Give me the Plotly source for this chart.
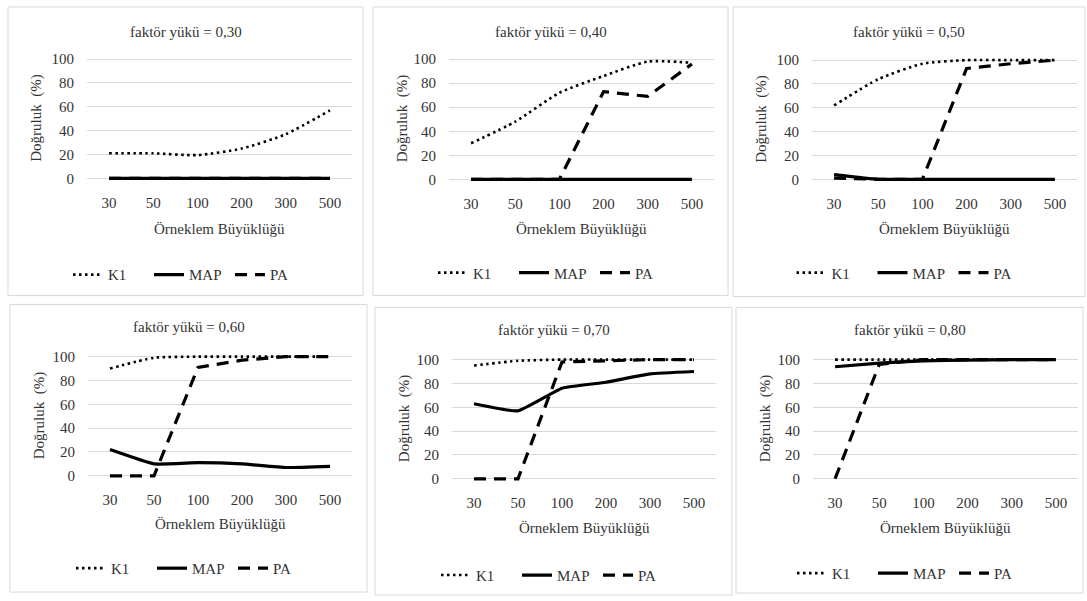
import plotly.graph_objects as go

W, H = 1087, 601

# sample sizes on the horizontal axis and factor loadings per panel
sizes = ["30", "50", "100", "200", "300", "500"]
loadings = ["0,30", "0,40", "0,50", "0,60", "0,70", "0,80"]

# accuracy (%) of each retention method, one row per factor loading
k1 = [
    [21, 21, 19.5, 25, 37, 57],
    [30, 48, 72, 86, 98, 97],
    [62, 84, 97, 100, 100, 100],
    [90, 99, 100, 100, 100, 100],
    [95, 99, 100, 100, 100, 100],
    [100, 100, 100, 100, 100, 100],
]
map_ = [
    [0, 0, 0, 0, 0, 0],
    [0, 0, 0, 0, 0, 0],
    [4, 0, 0, 0, 0, 0],
    [22, 10, 11, 10, 7, 8],
    [63, 57, 76, 81, 88, 90],
    [94, 97, 99, 99.5, 100, 100],
]
pa = [
    [0, 0, 0, 0, 0, 0],
    [0, 0, 0, 73, 69, 96],
    [1, 0, 0, 93, 97, 100],
    [0, 0, 91, 97, 100, 100],
    [0, 0, 98, 99, 100, 100],
    [0, 96, 100, 100, 100, 100],
]

# pixel geometry of each panel: box (l, t, r, b) and plot area (l, r, y100, y0)
boxes = [
    (8, 3, 363, 296), (373, 3, 728, 296), (733, 3, 1085, 297),
    (10, 305, 367, 597), (375, 308, 732, 600), (736, 308, 1083, 598),
]
plots = [
    (87, 352, 56, 177), (449, 714, 56, 178), (812, 1077, 57, 178),
    (88, 352, 358, 479), (452, 716, 361, 482), (813, 1078, 361, 482),
]
title_y = [28, 28, 28, 328, 331, 331]
xtitle_y = [228, 228, 228, 528, 532, 532]
legend_y = [275, 273, 273, 573, 580, 578]

FONT = "Liberation Serif, Times New Roman, serif"
TXT = "#333333"
GRID = "#d9d9d9"
PAD = 3  # value units added above 100 and below 0 so lines are not clipped

fig = go.Figure()
shapes, annotations = [], []

for i in range(6):
    n = i + 1
    sfx = "" if n == 1 else str(n)
    pl, pr, p100, p0 = plots[i]
    ppu = (p0 - p100) / 100.0
    top = p100 - PAD * ppu
    bot = p0 + PAD * ppu
    xa = dict(
        domain=[pl / W, pr / W], anchor="y" + sfx, type="category",
        range=[-0.5, 5.5], showgrid=False, showline=False, zeroline=False,
        ticks="", ticklabelstandoff=10,
        tickfont=dict(family=FONT, size=15, color=TXT),
    )
    ya = dict(
        domain=[1 - bot / H, 1 - top / H], anchor="x" + sfx,
        range=[-PAD, 100 + PAD], tickvals=[0, 20, 40, 60, 80, 100],
        showgrid=True, gridcolor=GRID, gridwidth=1, zeroline=False,
        showline=False, ticks="", ticklabelstandoff=12,
        tickfont=dict(family=FONT, size=15, color=TXT),
    )
    fig.layout["xaxis" + sfx] = xa
    fig.layout["yaxis" + sfx] = ya

    leg = "legend" + sfx
    common = dict(x=sizes, xaxis="x" + sfx, yaxis="y" + sfx, mode="lines",
                  legend=leg, hoverinfo="skip")
    fig.add_trace(go.Scatter(y=k1[i], name="K1",
                             line=dict(color="black", width=2.6, dash="2.5px,3.5px",
                                       shape="spline", smoothing=0.6), **common))
    fig.add_trace(go.Scatter(y=map_[i], name="MAP",
                             line=dict(color="black", width=3.2,
                                       shape="spline", smoothing=0.35), **common))
    fig.add_trace(go.Scatter(y=pa[i], name="PA",
                             line=dict(color="black", width=3.2, dash="12px,8px"), **common))

    bl, bt, br, bb = boxes[i]
    shapes.append(dict(type="rect", xref="paper", yref="paper",
                       x0=bl / W, x1=br / W, y0=1 - bb / H, y1=1 - bt / H,
                       line=dict(color=GRID, width=1), fillcolor="rgba(0,0,0,0)",
                       layer="below"))
    cx = (bl + br) / 2.0
    annotations.append(dict(text="faktör yükü = " + loadings[i], xref="paper", yref="paper",
                            x=cx / W, y=1 - title_y[i] / H, xanchor="center", yanchor="middle",
                            showarrow=False, font=dict(family=FONT, size=15, color=TXT)))
    annotations.append(dict(text="Örneklem Büyüklüğü", xref="paper", yref="paper",
                            x=(pl + pr) / 2.0 / W, y=1 - xtitle_y[i] / H,
                            xanchor="center", yanchor="middle", showarrow=False,
                            font=dict(family=FONT, size=15, color=TXT)))
    annotations.append(dict(text="Doğruluk\u00a0\u00a0(%)", xref="paper", yref="paper",
                            x=(bl + 29) / W, y=1 - (p100 + p0) / 2.0 / H, textangle=-90,
                            xanchor="center", yanchor="middle", showarrow=False,
                            font=dict(family=FONT, size=15, color=TXT)))
    fig.layout[leg] = dict(
        orientation="h", x=(cx + 4) / W, xanchor="center", y=1 - legend_y[i] / H,
        yanchor="middle", bgcolor="rgba(0,0,0,0)", itemclick=False,
        font=dict(family=FONT, size=15, color=TXT), itemwidth=30,
        entrywidth=36, entrywidthmode="pixels",
    )

fig.update_layout(
    width=W, height=H, margin=dict(l=0, r=0, t=0, b=0),
    paper_bgcolor="white", plot_bgcolor="white",
    shapes=shapes, annotations=annotations, showlegend=True,
)

fig.write_html("out.html", config={"displayModeBar": False})
